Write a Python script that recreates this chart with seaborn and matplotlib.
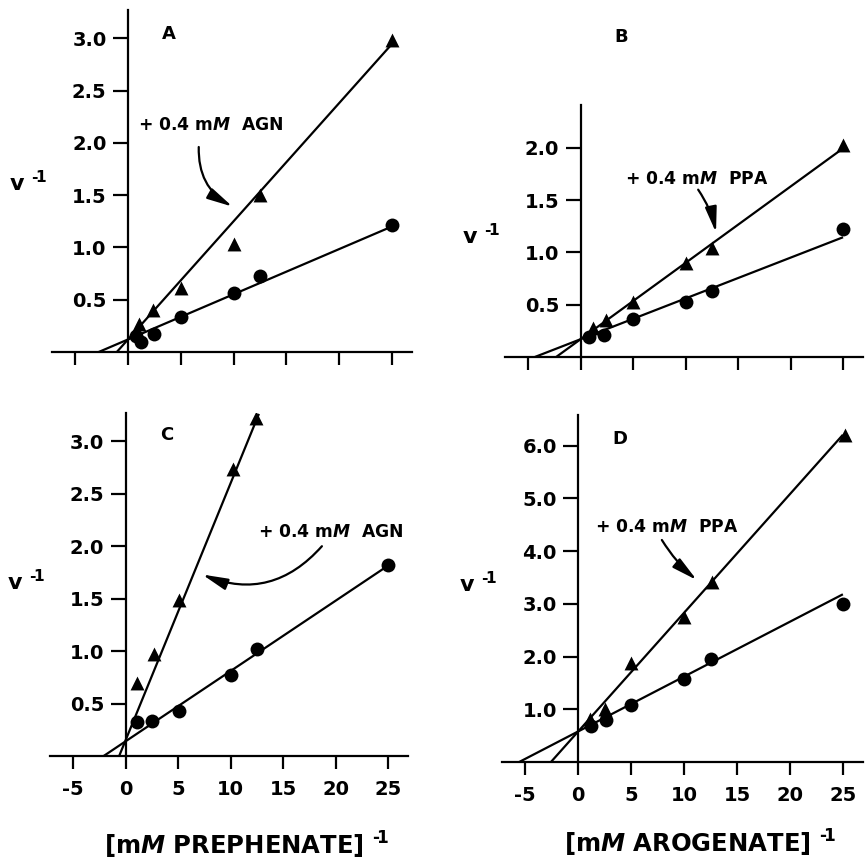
import numpy as np
import pandas as pd
import seaborn as sns
import matplotlib.pyplot as plt

# x values are [mM substrate]^-1, y values are v^-1
# circles = no inhibitor, triangles = + 0.4 mM inhibitor

# panel A: prephenate, +AGN
a_circ_x = [0.8, 1.2, 2.5, 5, 10, 12.5, 25]
a_circ_y = [0.15, 0.10, 0.17, 0.33, 0.56, 0.73, 1.21]
a_tri_x = [1.0, 2.4, 5, 10, 12.5, 25]
a_tri_y = [0.27, 0.40, 0.61, 1.03, 1.50, 2.98]

# panel B: arogenate, +PPA
b_circ_x = [0.8, 2.2, 5, 10, 12.5, 25]
b_circ_y = [0.19, 0.21, 0.36, 0.53, 0.63, 1.22]
b_tri_x = [1.2, 2.4, 5, 10, 12.5, 25]
b_tri_y = [0.28, 0.35, 0.53, 0.90, 1.04, 2.03]

# panel C: prephenate, +AGN
c_circ_x = [1.1, 2.5, 5.1, 10, 12.5, 25]
c_circ_y = [0.32, 0.33, 0.43, 0.77, 1.02, 1.82]
c_tri_x = [1.1, 2.7, 5.1, 10.2, 12.4]
c_tri_y = [0.70, 0.97, 1.49, 2.74, 3.22]

# panel D: arogenate, +PPA
d_circ_x = [1.2, 2.6, 5, 10, 12.5, 25]
d_circ_y = [0.68, 0.80, 1.08, 1.58, 1.96, 3.00]
d_tri_x = [1.1, 2.5, 5, 10, 12.6, 25.2]
d_tri_y = [0.82, 1.00, 1.88, 2.75, 3.42, 6.20]

# fitted lines as drawn: (y-intercept, slope, last x)
a_lines = [(0.12, 0.0432, 25), (0.12, 0.113, 25)]
b_lines = [(0.17, 0.039, 25), (0.17, 0.073, 25)]
c_lines = [(0.14, 0.067, 25), (0.15, 0.245, 12.7)]
d_lines = [(0.58, 0.104, 25), (0.58, 0.225, 25)]

x_ticks = [-5, 0, 5, 10, 15, 20, 25]
a_yticks = [0.5, 1.0, 1.5, 2.0, 2.5, 3.0]
b_yticks = [0.5, 1.0, 1.5, 2.0]
c_yticks = [0.5, 1.0, 1.5, 2.0, 2.5, 3.0]
d_yticks = [1.0, 2.0, 3.0, 4.0, 5.0, 6.0]

sns.set_theme(style="ticks")
plt.rcParams["font.family"] = ["DejaVu Sans"]
plt.rcParams["font.weight"] = "bold"
plt.rcParams["text.color"] = "black"
plt.rcParams["mathtext.fontset"] = "custom"
plt.rcParams["mathtext.rm"] = "DejaVu Sans:bold"
plt.rcParams["mathtext.it"] = "DejaVu Sans:italic:bold"
plt.rcParams["mathtext.bf"] = "DejaVu Sans:bold"

W, H = 865, 861
fig = plt.figure(figsize=(W / 100, H / 100), dpi=100)

# superscript with a plain hyphen instead of a math minus
inv = "$^{\u2010\\!1}$"


def px_axes(left, right, bottom, top):
    # pixel box -> figure fraction
    return [left / W, 1 - bottom / H, (right - left) / W, (bottom - top) / H]


def draw_panel(ax, cx, cy, tx, ty, lines, yticks, ylim, spine_top,
               letter, letter_y, note, note_xy, arrow_from, arrow_to, rad,
               vlabel_y, xlabel=None, xlabel_y=-0.2):
    for b, m, x_end in lines:
        xs = np.array([-b / m, x_end])
        ax.plot(xs, b + m * xs, color="black", lw=1.6, solid_capstyle="butt")
    circ = pd.DataFrame({"x": cx, "y": cy})
    tri = pd.DataFrame({"x": tx, "y": ty})
    sns.scatterplot(data=circ, x="x", y="y", ax=ax, marker="o", s=100,
                    color="black", edgecolor="black", linewidth=0, zorder=3)
    sns.scatterplot(data=tri, x="x", y="y", ax=ax, marker="^", s=100,
                    color="black", edgecolor="black", linewidth=0, zorder=3)

    ax.set_xlim(-7.2, 26.9)
    ax.set_ylim(*ylim)
    ax.set_xticks(x_ticks)
    ax.set_yticks(yticks)
    ax.set_yticklabels([f"{v:.1f}" for v in yticks])
    ax.set_xticklabels([str(v) for v in x_ticks])
    for side in ["top", "right"]:
        ax.spines[side].set_visible(False)
    ax.spines["left"].set_position(("data", 0))
    ax.spines["left"].set_bounds(0, spine_top)
    ax.spines["left"].set_linewidth(1.6)
    ax.spines["bottom"].set_linewidth(1.6)
    ax.spines["left"].set_color("black")
    ax.spines["bottom"].set_color("black")
    ax.tick_params(axis="x", direction="out", length=9.5, width=1.6, pad=8,
                   labelsize=14, labelbottom=xlabel is not None, colors="black")
    ax.tick_params(axis="y", direction="out", length=10.5, width=1.6, pad=5,
                   labelsize=14, colors="black")
    ax.set_xlabel("")
    ax.set_ylabel("")
    ax.set_facecolor("white")

    ax.text(3.9, letter_y, letter, ha="center", va="center", fontsize=13,
            fontweight="bold", color="black")
    ax.text(note_xy[0], note_xy[1], note, ha="left", va="center", fontsize=12.3,
            fontweight="bold", color="black")
    ax.annotate("", xy=arrow_to, xytext=arrow_from,
                arrowprops=dict(arrowstyle="-|>,head_length=1.1,head_width=0.25",
                                connectionstyle=f"arc3,rad={rad}", lw=1.6,
                                mutation_scale=14, color="black",
                                shrinkA=0, shrinkB=0))
    ax.text(-0.12, vlabel_y, "v " + inv, transform=ax.get_yaxis_transform(),
            ha="left", va="center", fontsize=16, fontweight="bold",
            color="black")
    if xlabel is not None:
        ax.text(0.55, xlabel_y, xlabel, transform=ax.transAxes, ha="center",
                va="top", fontsize=17.5, fontweight="bold", color="black")


agn = r"+ 0.4 m$\it{M}$  AGN"
ppa = r"+ 0.4 m$\it{M}$  PPA"

ax_a = fig.add_axes(px_axes(52, 412, 352, 10))
draw_panel(ax_a, a_circ_x, a_circ_y, a_tri_x, a_tri_y, a_lines, a_yticks,
           (0, 3.27), 3.27, "A", 3.04, agn, (0.95, 2.17),
           (6.7, 1.96), (9.9, 1.39), 0.3, 1.62)

ax_b = fig.add_axes(px_axes(505, 863, 357, 15))
draw_panel(ax_b, b_circ_x, b_circ_y, b_tri_x, b_tri_y, b_lines, b_yticks,
           (0, 3.27), 2.41, "B", 3.06, ppa, (4.26, 1.70),
           (11.2, 1.60), (12.9, 1.19), -0.1, 1.16)

ax_c = fig.add_axes(px_axes(50, 408, 756, 413))
draw_panel(ax_c, c_circ_x, c_circ_y, c_tri_x, c_tri_y, c_lines, c_yticks,
           (0, 3.27), 3.27, "C", 3.06, agn, (12.6, 2.14),
           (18.7, 2.0), (7.3, 1.73), -0.35, 1.66,
           xlabel="[m$\\it{M}$ PREPHENATE] " + inv, xlabel_y=-0.215)

ax_d = fig.add_axes(px_axes(502, 863, 762, 415))
draw_panel(ax_d, d_circ_x, d_circ_y, d_tri_x, d_tri_y, d_lines, d_yticks,
           (0, 6.58), 6.58, "D", 6.12, ppa, (1.63, 4.46),
           (7.9, 4.21), (11.2, 3.45), 0.08, 3.39,
           xlabel="[m$\\it{M}$ AROGENATE] " + inv, xlabel_y=-0.19)

fig.savefig("out.png", dpi=100, facecolor="white")
